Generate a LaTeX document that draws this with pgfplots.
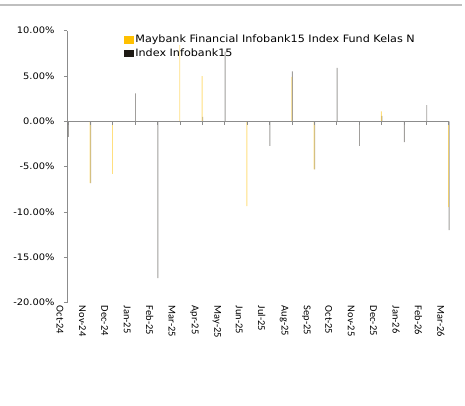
\documentclass[border=0pt]{standalone}
\usepackage{pgfplots}
\pgfplotsset{compat=1.18}
\usepackage{fontspec}
\setmainfont{DejaVu Sans}
\newfontfamily\tickfont[FakeStretch=1.1]{DejaVu Sans}
\newfontfamily\xfont{Carlito}
\definecolor{fundc}{HTML}{FFC000}
\definecolor{indexc}{HTML}{1E1A14}
\definecolor{axisgray}{HTML}{8C8C8C}
\pgfplotstableread{
x fund index
0 0 -1.7
1 -6.8 -6.8
2 -5.8 0
3 0 3.1
4 0 -17.3
5 8.4 0
6 5.0 0.5
7 0 7.7
8 -9.35 0
9 0 -2.7
10 4.9 5.5
11 -5.3 -5.3
12 0 5.9
13 0 -2.7
14 1.1 0.6
15 0 -2.3
16 0 1.8
17 -9.45 -12.0
}\datatable
\begin{document}
\begin{tikzpicture}
\useasboundingbox (0bp,0bp) rectangle (465bp,406bp);
\begin{scope}
\clip (0bp,0bp) rectangle (450bp,406bp);
\begin{axis}[
  at={(67bp,103.3bp)}, anchor=south west,
  scale only axis, width=381.8bp, height=272bp,
  xmin=-0.045, xmax=17, ymin=-20, ymax=10,
  axis y line*=left, axis x line*=bottom,
  x axis line style={draw=none},
  y axis line style={draw=axisgray, line width=0.8pt},
  ytick={-20,-15,...,10},
  tick align=outside, major tick length=3bp,
  y tick style={draw=axisgray, line width=0.8pt},
  x tick style={draw=none},
  xtick={0,...,17},
  xticklabels={Oct-24,Nov-24,Dec-24,Jan-25,Feb-25,Mar-25,Apr-25,May-25,Jun-25,Jul-25,Aug-25,Sep-25,Oct-25,Nov-25,Dec-25,Jan-26,Feb-26,Mar-26},
  xticklabel style={rotate=-90, anchor=west, font=\xfont\fontsize{10.5}{12}\selectfont, yshift=-8bp, inner sep=0pt},
  yticklabel style={font=\tickfont\fontsize{9}{11}\selectfont, xshift=-6bp},
  /pgf/number format/assume math mode=true,
  yticklabel={\pgfmathprintnumber[fixed,fixed zerofill,precision=2]{\tick}\%},
  ybar=0pt, bar width=0.9bp,
  legend style={at={(0.150,0.993)}, anchor=north west, draw=none, fill=none,
    font=\tickfont\fontsize{10.2}{12}\selectfont, inner sep=0pt, row sep=0.5bp,
    /tikz/every even column/.append style={column sep=0pt}},
  legend cell align=left,
  clip=false,
]
\addplot[draw=none, fill=indexc, fill opacity=0.42, bar shift=0.3bp,
  forget plot]
  table[x=x, y=index] {\datatable};
\addplot[draw=none, fill=fundc, fill opacity=0.5, bar shift=-0.3bp, forget plot]
  table[x=x, y=fund] {\datatable};
\addlegendimage{legend image code/.code={\fill[fundc, fill opacity=1] (-0.5bp,-3.3bp) rectangle (8bp,3.3bp);}}
\addlegendentry{Maybank Financial Infobank15 Index Fund Kelas N}
\addlegendimage{legend image code/.code={\fill[indexc, fill opacity=1] (-0.5bp,-3.3bp) rectangle (8bp,3.3bp);}}
\addlegendentry{Index Infobank15}
\draw[axisgray, line width=0.8pt] (axis cs:-0.045,0) -- (axis cs:17,0);
\pgfplotsinvokeforeach{0,...,17}{
  \draw[axisgray, line width=0.8pt] (axis cs:#1,0) -- ++(0bp,-3.5bp);
}
\end{axis}
\end{scope}
\draw[color=black!25, line width=1.5bp] (0bp,401bp) -- (462bp,401bp);
\end{tikzpicture}
\end{document}
